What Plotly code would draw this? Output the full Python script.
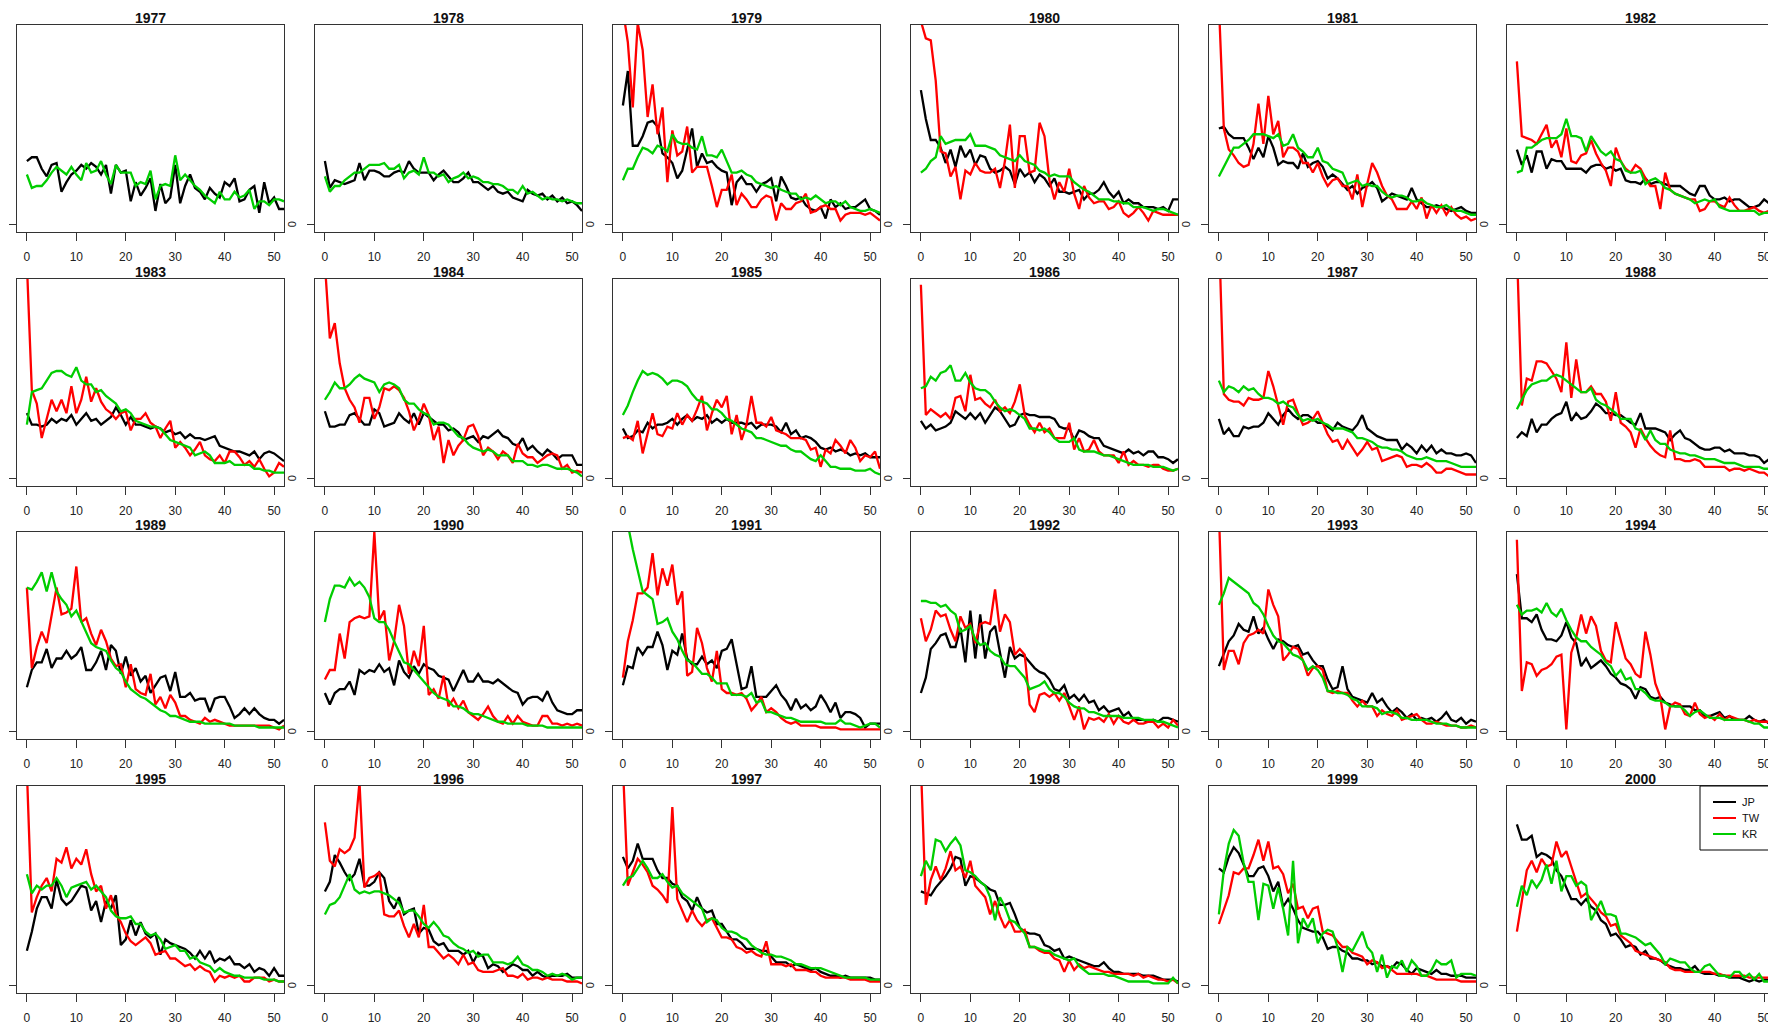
import plotly.graph_objects as go

# ---------------- data (0..100 scale, per week 0..52) ----------------
weeks = list(range(53))
years = list(range(1977, 2001))
tick_vals = [0, 10, 20, 30, 40, 50]
tick_text = ["0", "10", "20", "30", "40", "50"]
series_names = ["JP", "TW", "KR"]

jp_1977 = [33,35,35,29,25,31,32,17,22,26,28,31,29,32,30,26,31,16,31,27,28,12,22,15,19,24,7,21,11,14,31,11,20,26,19,17,13,19,16,14,22,20,24,12,13,18,20,6,22,11,14,8,8]
tw_1977 = None
kr_1977 = [26,19,20,20,23,27,30,28,26,30,26,23,32,27,28,33,26,21,31,27,27,27,20,22,21,28,13,20,21,20,36,23,26,23,20,18,15,13,11,17,13,13,17,14,15,18,8,12,12,10,13,13,12]

jp_1978 = [33,19,23,22,21,22,23,32,23,28,28,27,25,25,27,28,27,33,29,27,27,27,23,26,28,25,22,22,24,27,22,22,20,18,20,17,16,17,14,13,12,18,16,15,16,13,15,12,14,11,12,10,7]
tw_1978 = None
kr_1978 = [25,17,20,20,23,25,27,27,29,31,31,31,32,29,29,31,24,27,28,26,35,27,27,25,26,22,24,25,27,24,25,24,22,22,21,21,20,18,18,16,20,16,17,15,13,14,13,13,12,13,12,11,11]

jp_1979 = [62,80,41,41,46,53,54,51,37,35,32,24,28,39,50,30,37,32,33,30,28,27,10,22,25,21,21,17,21,22,24,12,25,20,14,13,14,10,8,7,9,3,13,9,11,8,9,9,11,13,8,7,5]
tw_1979 = [112,95,61,105,91,56,73,47,61,22,49,36,38,51,27,30,30,30,20,9,18,18,26,10,16,13,9,9,13,15,14,2,11,8,8,11,12,16,6,7,9,10,8,8,2,5,6,6,6,5,6,4,2]
kr_1979 = [23,29,29,35,40,39,37,41,40,38,47,43,42,42,40,39,46,36,36,35,39,33,27,27,28,26,25,22,21,20,19,20,18,17,16,16,13,14,13,15,13,11,12,12,10,12,9,8,7,7,8,7,6]

jp_1980 = [70,55,44,44,40,32,39,30,41,35,39,31,36,35,29,27,28,30,28,21,29,25,27,22,26,24,20,24,17,17,16,17,18,13,16,16,18,22,17,14,17,11,13,11,11,9,9,9,8,9,7,13,13]
tw_1980 = [106,97,96,75,38,37,25,30,13,28,26,32,28,27,27,29,19,33,52,19,46,46,27,28,53,46,23,13,22,17,29,16,8,20,14,11,12,12,8,9,12,6,4,6,9,6,2,7,6,5,5,5,5]
kr_1980 = [27,29,33,35,46,42,43,44,44,44,47,41,41,41,40,39,36,35,34,33,36,33,32,31,28,27,25,26,25,25,25,22,20,18,17,15,13,13,13,12,12,11,11,9,9,9,8,7,8,8,7,6,5]

jp_1981 = [50,51,47,45,45,45,40,34,40,35,46,40,31,33,32,32,29,37,30,32,33,30,24,26,24,21,18,20,16,19,20,22,19,12,14,16,15,14,13,19,13,11,9,9,10,9,8,7,8,9,7,6,6]
tw_1981 = [115,50,39,36,32,30,31,42,63,42,67,47,54,35,40,40,38,32,32,27,32,25,20,23,24,20,20,13,26,9,21,32,27,20,15,13,8,8,8,12,8,14,3,10,6,10,5,9,5,3,4,2,3]
kr_1981 = [25,30,35,40,40,42,44,47,47,47,46,45,47,41,42,47,40,38,35,35,40,33,32,29,28,27,21,22,23,20,21,20,20,17,15,14,15,15,14,12,12,13,11,10,9,9,10,8,7,7,6,5,5]

jp_1982 = [39,31,36,27,38,38,29,34,33,33,29,29,29,29,27,30,31,31,29,30,28,29,23,22,22,21,24,21,22,22,21,20,20,20,18,16,15,20,20,15,13,13,14,12,13,13,11,9,9,10,13,11,11]
tw_1982 = [85,46,45,44,42,47,52,40,44,35,50,33,32,36,37,44,37,32,28,20,40,33,29,27,31,29,24,20,20,8,27,18,16,15,14,13,13,7,8,12,12,10,9,14,10,7,7,8,9,7,6,7,7]
kr_1982 = [27,28,40,40,42,44,45,45,45,47,55,46,46,45,38,46,42,38,36,38,34,33,28,27,27,28,21,23,24,22,19,18,16,15,14,13,11,12,13,12,13,9,8,7,7,7,7,7,7,5,6,6,5]

jp_1983 = [34,28,28,27,28,31,29,31,30,33,28,31,34,30,31,28,30,32,37,33,28,32,28,28,27,26,27,26,24,25,23,24,21,23,21,21,20,21,22,17,16,15,14,14,13,12,14,10,13,14,13,11,9]
tw_1983 = [112,46,39,21,31,41,35,41,34,48,34,41,53,40,47,40,36,34,31,34,35,25,31,31,34,29,27,21,26,30,16,19,16,12,15,19,12,10,9,12,8,14,14,11,7,9,6,10,5,1,3,8,6]
kr_1983 = [28,45,46,47,51,55,56,56,54,53,58,51,49,49,45,46,43,41,39,35,36,34,30,29,28,27,27,26,23,20,19,18,17,16,12,13,14,12,8,8,8,9,7,7,7,7,5,5,4,4,3,3,3]

jp_1984 = [35,27,27,28,28,33,34,31,28,28,36,34,27,28,29,34,31,29,34,28,34,32,30,28,28,25,26,24,20,21,22,19,22,21,23,25,22,21,18,17,21,15,17,14,12,15,13,10,12,12,12,7,7]
tw_1984 = [112,73,81,60,47,41,37,29,42,42,31,37,47,46,48,46,42,35,25,31,39,33,20,27,8,20,12,17,20,27,28,22,12,16,14,10,14,12,8,18,13,11,11,8,10,12,13,12,5,7,3,4,3]
kr_1984 = [41,45,50,47,47,49,52,54,52,51,50,45,49,50,49,47,41,39,39,36,34,33,28,29,29,28,25,22,21,18,16,15,14,15,14,12,12,12,9,9,9,7,7,6,7,7,6,5,5,5,4,3,1]

jp_1985 = [26,21,22,25,24,29,26,28,28,29,31,28,31,33,30,32,31,33,29,31,29,31,29,29,29,28,29,26,28,28,28,27,24,29,23,25,21,22,21,19,16,15,16,14,15,14,12,13,12,13,11,11,11]
tw_1985 = [21,22,20,30,13,24,34,23,22,27,26,34,28,33,30,36,43,25,34,41,37,43,23,33,20,28,43,29,29,27,32,25,24,23,21,21,21,20,15,16,6,15,13,20,17,13,20,16,9,12,11,14,5]
kr_1985 = [33,38,45,51,56,54,55,54,52,49,51,51,50,48,44,41,40,39,36,36,34,31,30,28,26,25,24,21,21,20,19,18,17,17,15,14,14,12,10,9,12,9,6,6,5,5,5,4,4,4,5,3,2]

jp_1986 = [30,26,28,25,26,27,29,35,33,31,34,31,34,29,33,37,35,31,27,28,33,34,33,33,32,32,32,31,27,26,26,20,25,24,22,21,21,17,16,15,14,13,15,13,14,12,14,14,11,11,10,8,10]
tw_1986 = [101,33,36,34,32,34,31,42,43,35,54,41,42,39,37,41,35,37,34,40,49,33,28,24,29,24,26,21,21,21,29,15,21,14,15,20,14,12,12,12,8,14,7,9,7,7,6,7,7,5,4,4,5]
kr_1986 = [47,48,53,51,55,56,59,51,51,55,50,47,46,46,44,40,37,35,36,35,33,31,26,26,25,26,24,21,19,19,19,21,15,14,14,14,13,12,12,11,10,9,8,7,7,7,7,6,6,6,5,4,5]

jp_1987 = [31,23,26,22,22,27,26,27,27,29,34,31,28,33,36,33,31,33,33,31,29,29,27,25,29,27,26,25,28,33,26,24,22,21,20,20,20,15,18,16,13,17,14,17,13,15,13,13,12,12,13,12,8]
tw_1987 = [130,44,41,40,40,38,42,41,41,42,56,48,38,28,40,41,34,28,29,31,35,29,23,19,20,15,20,16,12,15,19,15,16,9,10,11,12,11,6,7,7,6,8,6,3,3,5,5,4,3,2,2,2]
kr_1987 = [51,45,48,47,45,48,46,47,44,42,42,41,39,40,38,37,33,30,31,30,31,29,28,26,26,26,25,24,21,21,20,19,17,16,16,15,15,14,12,11,10,10,11,10,9,9,9,8,7,6,6,6,6]

jp_1988 = [21,24,22,31,24,28,28,31,33,34,40,30,34,31,32,35,39,37,34,34,33,33,31,29,28,34,26,26,26,25,24,20,23,25,21,20,18,16,15,15,16,16,14,15,13,13,13,12,12,11,8,10,8]
tw_1988 = [120,38,52,51,61,61,60,56,52,45,71,42,62,45,45,48,44,44,40,30,45,29,27,24,16,26,21,17,14,12,11,25,10,10,9,9,10,9,6,6,6,6,6,4,5,5,4,5,4,3,3,1,1]
kr_1988 = [36,41,46,49,50,51,51,53,54,53,51,49,47,45,45,47,41,39,38,36,34,31,31,31,26,25,20,25,20,18,18,15,14,13,13,12,12,11,10,10,10,9,8,8,8,7,6,6,6,6,5,5,4]

jp_1989 = [23,32,36,36,43,33,38,38,42,38,40,44,32,32,36,42,32,45,42,30,39,29,33,26,29,20,24,28,29,21,31,18,18,20,16,17,17,10,17,18,18,13,7,9,12,9,12,9,7,6,6,4,6]
tw_1989 = [75,33,44,52,46,61,75,61,62,64,86,57,59,51,45,53,47,38,34,35,23,35,22,20,19,30,14,18,12,19,15,8,8,6,5,4,7,5,6,5,4,3,3,3,3,3,3,3,3,3,2,1,3]
kr_1989 = [75,74,78,83,73,83,73,69,66,60,63,57,52,46,44,43,42,37,33,31,26,22,20,18,17,15,13,11,10,8,8,7,6,5,5,5,4,4,4,4,4,4,3,3,3,3,3,2,2,2,2,2,2]

jp_1990 = [20,14,20,22,22,26,19,32,30,32,31,35,31,33,24,37,31,28,34,30,35,33,32,29,28,27,21,27,32,26,26,30,26,26,25,27,25,23,21,20,14,17,18,18,16,21,15,11,10,9,9,11,11]
tw_1990 = [27,32,32,51,38,57,59,60,59,60,104,58,63,37,47,66,55,30,42,34,55,19,22,17,29,13,17,12,16,10,8,6,9,13,8,5,4,8,4,8,5,4,3,3,8,8,4,4,3,4,3,4,3]
kr_1990 = [57,69,76,76,75,80,76,78,75,70,59,57,57,53,47,41,36,35,32,29,26,23,20,18,17,16,13,13,12,10,9,9,8,7,6,5,5,4,4,4,4,3,3,3,3,2,2,2,2,2,2,2,2]

jp_1991 = [24,34,33,44,40,44,44,52,45,32,42,40,51,38,35,35,39,35,37,33,42,43,48,35,22,23,34,18,18,18,21,24,19,16,11,17,12,14,11,13,19,15,10,15,7,10,10,9,7,2,4,4,4]
tw_1991 = [28,47,58,72,72,75,93,71,85,76,87,66,73,29,31,54,46,33,26,42,22,20,20,19,20,17,11,14,18,10,12,10,7,5,4,5,3,3,3,3,2,2,2,2,1,1,1,1,1,1,1,1,1]
kr_1991 = [125,108,95,84,73,71,69,56,57,59,52,48,42,37,36,33,30,30,28,25,25,25,19,19,19,18,20,15,16,10,10,9,8,7,7,6,5,5,5,5,5,4,4,4,6,4,4,3,2,3,4,4,2]

jp_1992 = [20,28,43,46,50,51,44,44,54,36,63,38,61,38,52,55,41,28,44,38,40,39,36,33,31,30,27,22,21,24,17,19,16,19,15,16,11,13,10,11,12,8,10,6,6,6,5,6,5,7,7,6,5]
tw_1992 = [59,47,53,63,60,61,53,47,60,54,56,46,56,57,56,74,52,61,57,40,43,40,14,10,19,20,18,20,16,20,13,6,13,1,7,6,7,5,9,4,8,5,4,6,4,4,5,5,2,4,2,6,3]
kr_1992 = [68,68,67,67,65,66,63,61,52,53,55,48,45,46,42,40,39,35,34,34,31,28,22,23,24,26,22,20,20,18,15,13,12,12,10,10,9,8,8,8,8,7,7,7,7,6,6,6,5,5,4,3,2]

jp_1993 = [34,40,47,50,56,53,52,60,51,54,48,43,48,47,45,44,45,40,41,37,34,34,27,22,23,34,22,18,17,16,15,20,15,17,13,10,12,10,7,9,6,7,6,7,5,7,10,6,5,7,4,6,5]
tw_1993 = [115,32,42,42,35,46,50,51,53,51,74,66,60,37,40,44,43,37,29,33,34,32,21,20,21,20,20,16,13,16,13,13,8,11,9,8,11,6,7,8,9,6,4,4,5,4,3,3,3,2,2,3,2]
kr_1993 = [66,72,80,78,76,74,72,67,65,61,55,50,47,46,43,40,39,37,32,34,32,28,21,21,20,20,19,17,16,13,13,13,12,9,10,10,9,7,7,6,6,6,6,5,4,4,4,3,3,2,2,2,2]

jp_1994 = [82,59,59,57,61,53,48,48,47,50,57,49,46,34,38,33,35,37,34,30,28,25,24,22,17,23,22,18,17,18,15,14,13,13,13,13,11,11,8,8,9,10,7,8,6,6,6,8,6,5,6,4,5]
tw_1994 = [100,21,36,35,29,32,33,35,39,40,1,41,49,61,51,60,55,42,37,36,57,48,38,35,30,28,52,40,25,18,1,13,15,14,9,8,15,9,7,8,6,9,6,8,7,6,6,5,6,5,5,5,5]
kr_1994 = [66,61,63,63,64,62,67,62,60,64,58,53,49,47,47,44,42,40,36,34,29,32,27,28,22,22,20,17,16,16,15,13,13,13,11,8,10,11,9,7,7,7,6,6,6,6,6,5,4,4,2,2,2]

jp_1995 = [18,28,40,46,46,40,55,45,42,44,48,52,51,39,44,33,44,40,47,21,24,34,26,33,27,25,27,16,24,22,21,20,19,17,14,18,14,18,12,14,13,15,11,11,9,11,7,9,8,5,9,5,5]
tw_1995 = [112,38,46,52,56,49,66,64,72,61,66,63,71,58,49,52,40,47,37,33,27,23,21,23,25,22,16,17,18,14,14,12,10,11,8,10,8,7,2,5,4,5,4,5,2,2,4,4,4,2,3,2,2]
kr_1995 = [58,48,52,50,52,52,56,52,46,51,52,53,54,50,52,49,46,39,36,35,35,36,32,32,28,26,27,24,19,20,21,18,18,14,15,12,11,10,7,9,7,6,5,5,4,4,4,4,3,3,3,2,2]

jp_1996 = [49,54,68,64,59,55,58,66,52,52,54,59,56,44,40,46,37,39,40,27,30,29,23,21,22,18,18,18,16,18,12,17,15,9,11,10,7,9,11,10,8,8,5,7,5,4,5,5,5,6,4,4,4]
tw_1996 = [85,65,62,71,69,71,77,106,51,56,57,59,37,36,36,39,31,25,32,25,42,20,20,17,14,16,14,11,16,11,12,8,7,7,7,8,9,5,5,4,6,3,4,4,3,4,3,3,3,2,2,2,1]
kr_1996 = [37,42,43,46,52,58,50,48,49,48,49,49,48,47,45,43,38,39,39,36,32,30,33,30,26,25,22,20,19,17,18,15,16,16,12,12,12,11,12,15,11,10,8,8,7,5,6,5,6,5,3,4,4]

jp_1997 = [67,61,65,74,66,66,66,60,56,56,53,52,46,44,39,46,40,38,39,32,32,28,24,24,22,19,19,19,18,18,15,12,12,12,10,11,10,9,8,9,7,6,5,5,4,5,4,4,4,4,4,3,3]
tw_1997 = [115,52,59,66,63,59,52,50,47,43,93,45,39,33,39,34,31,34,35,30,25,25,24,20,19,17,18,16,15,23,11,11,11,10,11,8,8,8,7,7,5,4,4,4,4,4,3,3,3,3,2,2,2]
kr_1997 = [52,56,57,61,65,61,56,56,58,54,51,52,48,46,44,42,40,33,35,34,30,28,28,27,25,24,21,19,17,16,16,15,15,14,13,11,11,10,9,9,9,8,7,6,5,4,4,4,4,4,3,3,3]

jp_1998 = [49,48,47,51,54,57,61,67,66,52,57,56,54,52,50,49,42,42,43,37,30,28,27,27,26,21,20,18,19,14,15,14,13,12,11,10,10,12,9,7,7,6,6,6,6,5,5,5,4,3,3,3,2]
tw_1998 = [115,42,55,62,55,61,70,60,62,56,65,52,49,46,37,44,36,30,34,28,28,29,20,20,18,17,17,14,13,7,13,8,11,9,10,9,8,7,7,6,6,6,6,5,6,4,5,4,3,3,2,3,1]
kr_1998 = [57,65,60,76,75,70,74,77,73,60,59,57,54,52,46,34,46,41,34,33,30,27,20,20,19,18,18,16,15,14,13,14,10,8,6,6,6,6,5,5,4,3,2,2,2,2,2,1,1,1,1,4,1]

jp_1999 = [61,59,67,72,69,63,57,57,61,62,57,49,54,41,45,40,34,30,29,28,28,25,19,20,20,18,17,14,14,13,13,11,12,10,10,9,12,11,8,6,9,8,7,6,8,6,6,5,5,5,4,4,4]
tw_1999 = [32,40,47,59,58,61,61,68,76,65,75,61,62,58,48,53,40,41,35,40,41,28,27,26,23,20,20,17,16,15,11,13,12,9,10,8,6,6,6,6,6,5,5,4,3,3,3,3,3,2,2,2,2]
kr_1999 = [37,60,74,81,78,64,54,54,34,53,52,40,51,40,26,65,22,35,30,35,22,27,29,28,20,7,20,18,23,28,20,17,7,16,4,10,9,13,7,13,10,5,5,8,13,11,11,13,4,6,6,6,5]

jp_2000 = [84,76,76,78,67,69,68,66,60,57,51,45,45,42,45,41,39,34,32,26,27,24,20,21,20,16,18,14,14,13,11,10,9,9,8,8,10,7,6,6,6,5,5,4,4,4,3,2,3,2,3,3,3]
tw_2000 = [28,43,60,65,59,66,62,63,75,67,70,62,54,46,48,45,42,38,36,31,32,26,24,22,18,17,16,15,14,13,12,9,8,8,7,7,7,7,7,7,6,6,5,5,5,5,5,4,4,4,4,4,3]
kr_2000 = [41,52,47,55,51,55,63,53,65,49,57,57,52,54,52,34,39,44,37,37,36,27,27,26,25,23,21,22,19,16,11,14,13,12,12,9,7,7,10,11,8,5,5,4,7,7,4,6,3,6,2,2,4]

# ---------------- layout constants ----------------
# The page body has an 8px default margin: the figure fills the rest of the
# window and all page positions below are corrected for that margin.
PAGE_W, PAGE_H, BODY = 1776, 1032, 8
W, H = PAGE_W - BODY, PAGE_H - BODY
COL_LEFT = [17, 315, 613, 911, 1209, 1507]   # page px
ROW_TOP = [25, 279, 532, 786]                # page px
PW, PH = 267, 207
COLORS = {"JP": "#000000", "TW": "#FF0000", "KR": "#00CD00"}
AXC = "#333333"
FONT = "Liberation Sans, Arial, sans-serif"


def px(xp):
    return (xp - BODY) / W


def py(yp):
    return 1 - (yp - BODY) / H


g = globals()
fig = go.Figure()
layout = dict(width=W, height=H, margin=dict(l=0, r=0, t=0, b=0),
              paper_bgcolor="white", plot_bgcolor="white", showlegend=False)
annotations = []
shapes = []

for i, yr in enumerate(years):
    r, c = divmod(i, 6)
    n = i + 1
    xa = "x" if n == 1 else f"x{n}"
    ya = "y" if n == 1 else f"y{n}"
    left, top = COL_LEFT[c], ROW_TOP[r]
    for name in series_names:
        vals = g[f"{name.lower()}_{yr}"]
        if vals is None:
            continue
        fig.add_trace(go.Scatter(x=weeks[:len(vals)], y=vals, mode="lines",
                                 line=dict(color=COLORS[name], width=2.3),
                                 xaxis=xa, yaxis=ya, name=name,
                                 showlegend=False, hoverinfo="skip"))
    layout[f"xaxis{n}"] = dict(
        domain=[px(left), min(1.0, px(left + PW))], anchor=ya, range=[-2, 52],
        tickvals=tick_vals, ticktext=tick_text, ticks="outside", ticklen=8,
        tickcolor=AXC, tickwidth=1, showline=True, mirror=True, linecolor=AXC,
        linewidth=1, showgrid=False, zeroline=False, ticklabelstandoff=6,
        tickfont=dict(size=12, color="#222222", family=FONT), fixedrange=True)
    layout[f"yaxis{n}"] = dict(
        domain=[py(top + PH), py(top)], anchor=xa, range=[-4, 104],
        tickvals=[0], ticks="outside", ticklen=7, tickcolor=AXC, tickwidth=1,
        showticklabels=False, showline=True, mirror=True, linecolor=AXC,
        linewidth=1, showgrid=False, zeroline=False, fixedrange=True)
    annotations.append(dict(
        text=f"<b>{yr}</b>", xref="paper", yref="paper",
        x=px(left + PW / 2), y=py(top), xanchor="center", yanchor="bottom",
        yshift=-3, showarrow=False,
        font=dict(size=14, family=FONT, color="#111111")))
    if c < 5:
        annotations.append(dict(
            text="0", xref="paper", yref=ya, x=px(left + PW + 8), y=0,
            xanchor="center", yanchor="middle", textangle=-90, showarrow=False,
            font=dict(size=11, family=FONT, color="#222222")))

# legend box in the last panel (top-right corner)
lx0, lx1, ly0, ly1 = 1700, 1774, 786, 850
shapes.append(dict(type="rect", xref="paper", yref="paper",
                   x0=px(lx0), x1=px(lx1), y0=py(ly1), y1=py(ly0),
                   line=dict(color="#000000", width=1), fillcolor="white",
                   layer="above"))
for k, name in enumerate(series_names):
    yy = 802 + 16 * k
    shapes.append(dict(type="line", xref="paper", yref="paper",
                       x0=px(1713), x1=px(1736), y0=py(yy), y1=py(yy),
                       line=dict(color=COLORS[name], width=2), layer="above"))
    annotations.append(dict(text=name, xref="paper", yref="paper",
                            x=px(1740), y=py(yy), xanchor="left",
                            yanchor="middle", showarrow=False,
                            font=dict(size=11, family=FONT, color="#111111")))

layout["annotations"] = annotations
layout["shapes"] = shapes
fig.update_layout(**layout)
fig.write_html("out.html")
